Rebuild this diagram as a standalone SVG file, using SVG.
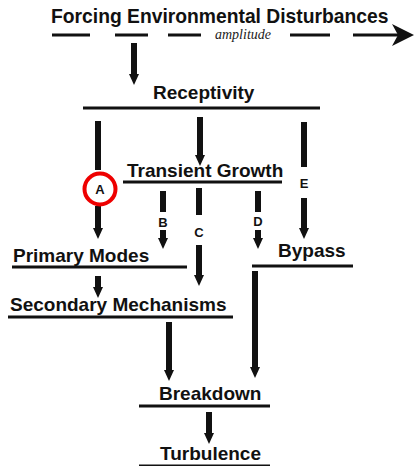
<svg xmlns="http://www.w3.org/2000/svg" width="416" height="466" viewBox="0 0 416 466">
  <style>
    .title { font-family: "Liberation Sans", Arial, sans-serif; font-weight: bold; font-size: 19px; fill: #111; }
    .lbl { font-family: "Liberation Sans", Arial, sans-serif; font-weight: bold; font-size: 13px; fill: #111; text-anchor: middle; }
    .amp { font-family: "Liberation Serif", "Times New Roman", serif; font-style: italic; font-size: 14px; fill: #222; }
    .rule { stroke: #111; stroke-width: 3; fill: none; }
    .bar { stroke: #111; stroke-width: 6; fill: none; }
    .dash { stroke: #111; stroke-width: 3; fill: none; }
  </style>
  <defs>
    <marker id="head" markerUnits="userSpaceOnUse" markerWidth="12" markerHeight="12" viewBox="0 0 12 12" refX="3" refY="6" orient="auto">
      <path d="M0,1 L11,6 L0,11 Z" fill="#111"/>
    </marker>
  </defs>

  <!-- forcing disturbances -->
  <g id="forcing">
    <text class="title" x="51" y="23" style="font-size:19.3px">Forcing Environmental Disturbances</text>
    <line class="dash" x1="52" y1="35" x2="90" y2="35"/>
    <line class="dash" x1="115" y1="35" x2="148" y2="35"/>
    <line class="dash" x1="168" y1="35" x2="201" y2="35"/>
    <text class="amp" x="215" y="39">amplitude</text>
    <line class="dash" x1="290" y1="35" x2="330" y2="35"/>
    <line class="dash" x1="353" y1="35" x2="400" y2="35"/>
    <path d="M414,35 L392,24 L398,35 L392,46 Z" fill="#111"/>
  </g>

  <g id="receptivity">
    <text class="title" x="153" y="99">Receptivity</text>
    <line class="rule" x1="83" y1="108" x2="320" y2="108"/>
  </g>

  <g id="transient">
    <text class="title" x="127" y="177">Transient Growth</text>
    <line class="rule" x1="123" y1="182" x2="282" y2="182"/>
  </g>

  <g id="primary">
    <text class="title" x="13" y="262">Primary Modes</text>
    <line class="rule" x1="12" y1="267" x2="187" y2="267"/>
  </g>

  <g id="bypass">
    <text class="title" x="278" y="257">Bypass</text>
    <line class="rule" x1="252" y1="266" x2="353" y2="266"/>
  </g>

  <g id="secondary">
    <text class="title" x="10" y="311">Secondary Mechanisms</text>
    <line class="rule" x1="8" y1="317" x2="233" y2="317"/>
  </g>

  <g id="breakdown">
    <text class="title" x="159" y="400">Breakdown</text>
    <line class="rule" x1="139" y1="406" x2="270" y2="406"/>
  </g>

  <g id="turbulence">
    <text class="title" x="160" y="460">Turbulence</text>
    <line class="rule" x1="139" y1="466" x2="270" y2="466"/>
  </g>

  <g id="connectors">
    <!-- forcing to receptivity -->
    <line class="bar" x1="134" y1="43" x2="134" y2="77" marker-end="url(#head)"/>
    <!-- path A -->
    <line class="bar" x1="98" y1="121" x2="98" y2="170"/>
    <line class="bar" x1="98" y1="206" x2="98" y2="231" marker-end="url(#head)"/>
    <!-- receptivity to transient growth -->
    <line class="bar" x1="200" y1="117" x2="200" y2="158" marker-end="url(#head)"/>
    <!-- path E -->
    <line class="bar" x1="304" y1="122" x2="304" y2="167"/>
    <line class="bar" x1="304" y1="198" x2="304" y2="231" marker-end="url(#head)"/>
    <!-- path B -->
    <line class="bar" x1="163" y1="191" x2="163" y2="212"/>
    <line class="bar" x1="163" y1="230" x2="163" y2="241" marker-end="url(#head)"/>
    <!-- path C -->
    <line class="bar" x1="199" y1="188" x2="199" y2="215"/>
    <line class="bar" x1="199" y1="245" x2="199" y2="278" marker-end="url(#head)"/>
    <!-- path D -->
    <line class="bar" x1="258" y1="191" x2="258" y2="212"/>
    <line class="bar" x1="258" y1="230" x2="258" y2="241" marker-end="url(#head)"/>
    <!-- primary to secondary -->
    <line class="bar" x1="98" y1="276" x2="98" y2="290" marker-end="url(#head)"/>
    <!-- bypass to breakdown -->
    <line class="bar" x1="255" y1="271" x2="255" y2="370" marker-end="url(#head)"/>
    <!-- secondary to breakdown -->
    <line class="bar" x1="169" y1="322" x2="169" y2="373" marker-end="url(#head)"/>
    <!-- breakdown to turbulence -->
    <line class="bar" x1="209" y1="412" x2="209" y2="436" marker-end="url(#head)"/>

    <circle cx="100" cy="189" r="15.5" fill="#fff" stroke="#e00" stroke-width="4"/>
    <text class="lbl" x="100" y="194">A</text>
    <text class="lbl" x="163" y="227">B</text>
    <text class="lbl" x="199" y="237">C</text>
    <text class="lbl" x="258" y="226">D</text>
    <text class="lbl" x="304" y="188">E</text>
  </g>
</svg>
